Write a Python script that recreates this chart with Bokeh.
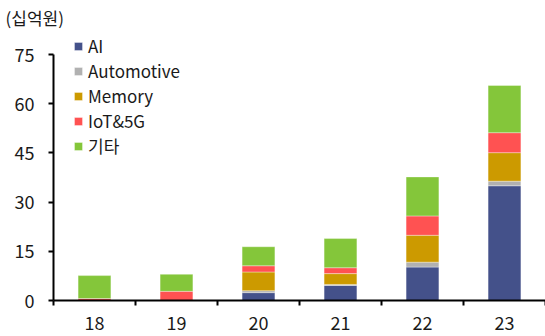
from bokeh.plotting import figure
from bokeh.models import Range1d, FixedTicker, ColumnDataSource
from bokeh.embed import file_html
from bokeh.resources import INLINE

# Revenue by application, in 십억원 (billion won)
years = ["18", "19", "20", "21", "22", "23"]
ai = [0.0, 0.0, 2.4, 4.6, 10.2, 35.0]
automotive = [0.0, 0.0, 0.6, 0.3, 1.5, 1.4]
memory = [0.0, 0.0, 5.7, 3.3, 8.2, 8.7]
iot_5g = [0.6, 2.8, 1.9, 1.8, 5.9, 6.1]
others = [7.0, 5.2, 5.8, 8.9, 11.9, 14.4]

series_keys = ["ai", "automotive", "memory", "iot_5g", "others"]
series_names = ["AI", "Automotive", "Memory", "IoT&5G", "기타"]
colors = ["#44518A", "#B1B1B1", "#CC9A00", "#FF5252", "#84C63A"]
y_ticks = [0, 15, 30, 45, 60, 75]

FONT = "Noto Sans CJK KR"

x = [i + 0.5 for i in range(len(years))]
source = ColumnDataSource(dict(x=x, ai=ai, automotive=automotive,
                               memory=memory, iot_5g=iot_5g, others=others))

p = figure(width=545, height=336, output_backend="svg", toolbar_location=None,
           x_range=Range1d(0, len(years)), y_range=Range1d(0, 81.76),
           min_border_left=53, min_border_right=0, min_border_top=0,
           min_border_bottom=36, title="(십억원)")
p.outline_line_color = None
p.grid.visible = False
p.background_fill_color = "white"
p.border_fill_color = "white"

p.title.align = "left"
p.title.offset = -48
p.title.standoff = 5
p.title.text_font = FONT
p.title.text_font_size = "17px"
p.title.text_font_style = "normal"
p.title.text_color = "#1a1a1a"

p.vbar_stack(series_keys, x="x", width=0.4, color=colors, source=source,
             legend_label=series_names, line_color="white", line_alpha=0.35,
             line_width=1)

# x axis: labels at category centres, ticks on the boundaries
xa = p.xaxis[0]
xa.ticker = FixedTicker(ticks=x, minor_ticks=list(range(len(years) + 1)))
xa.major_label_overrides = {xv: y for xv, y in zip(x, years)}
xa.major_tick_out = 0
xa.major_tick_in = 0
xa.minor_tick_out = 5
xa.minor_tick_in = 0
xa.minor_tick_line_color = "black"
xa.minor_tick_line_width = 2
xa.axis_line_width = 2
xa.axis_line_color = "black"
xa.major_label_text_font = FONT
xa.major_label_text_font_size = "18px"
xa.major_label_text_color = "#1a1a1a"
xa.major_label_standoff = 10

ya = p.yaxis[0]
ya.ticker = FixedTicker(ticks=y_ticks, minor_ticks=[])
ya.bounds = (0, 75)
ya.major_tick_out = 5
ya.major_tick_in = 0
ya.major_tick_line_width = 2
ya.major_tick_line_color = "black"
ya.axis_line_width = 2
ya.axis_line_color = "black"
ya.major_label_text_font = FONT
ya.major_label_text_font_size = "18px"
ya.major_label_text_color = "#1a1a1a"
ya.major_label_standoff = 14

lg = p.legend[0]
lg.location = (20, 142)
lg.orientation = "vertical"
lg.background_fill_alpha = 0
lg.border_line_color = None
lg.padding = 0
lg.margin = 0
lg.spacing = 0
lg.label_height = 20
lg.glyph_width = 10
lg.glyph_height = 10
lg.label_standoff = 5
lg.label_text_font = FONT
lg.label_text_font_size = "17px"
lg.label_text_color = "#1a1a1a"

open("out.html", "w").write(file_html(p, INLINE))
